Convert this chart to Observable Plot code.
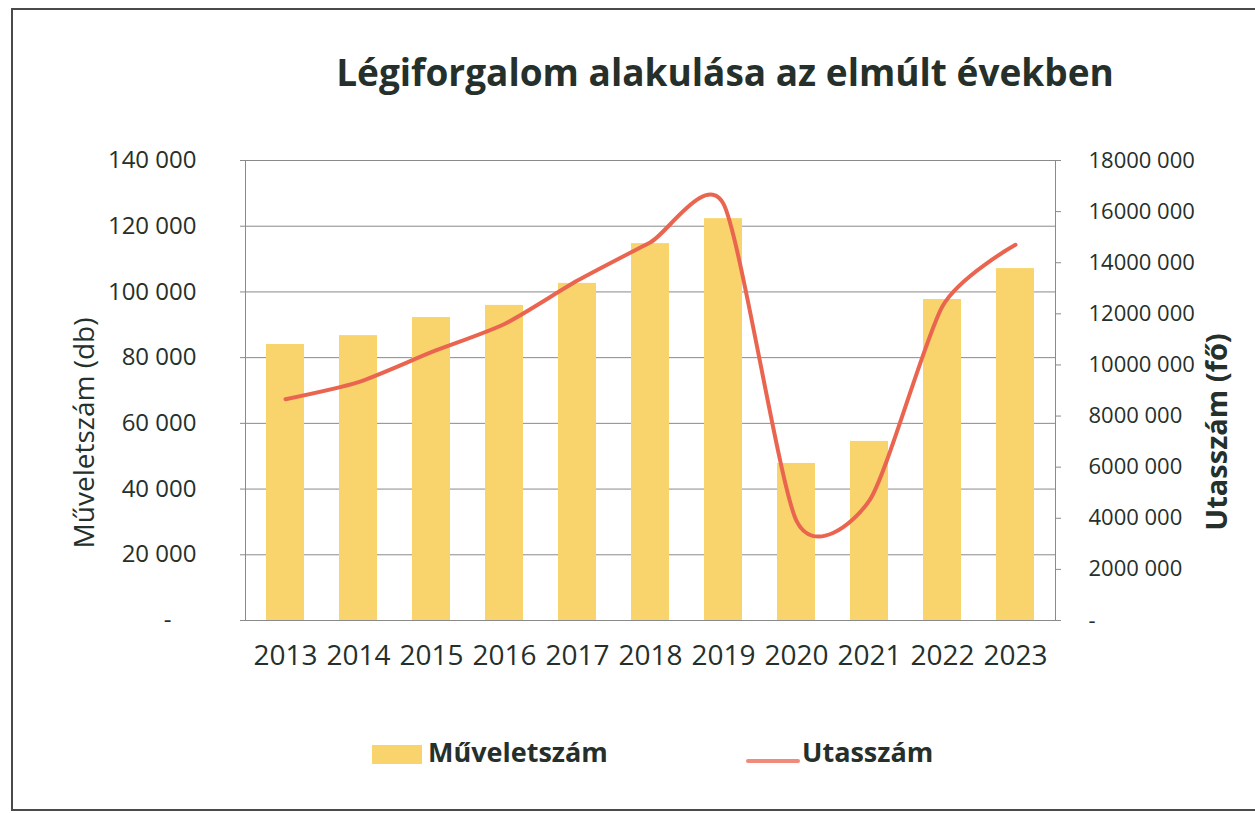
<!DOCTYPE html>
<html><head><meta charset="utf-8">
<script src="https://cdn.jsdelivr.net/npm/d3@7"></script>
<script src="https://cdn.jsdelivr.net/npm/@observablehq/plot@0.6"></script>
<style>
body{margin:0;background:#fff;width:1255px;height:813px;overflow:hidden;position:relative;font-family:"Open Sans",sans-serif;color:#26302b}
#border{position:absolute;left:11px;top:8px;width:1300px;height:803px;border:2px solid #4a4a4a;box-sizing:border-box}
#title{position:absolute;left:0;top:50px;width:1450px;text-align:center;font-weight:700;font-size:37px;line-height:44px}
#chart{position:absolute;left:0;top:0}
.ytitle{position:absolute;white-space:nowrap;transform:translate(-50%,-50%) rotate(-90deg);font-size:28px;line-height:32px}
#ltitle{left:83px;top:433px}
#rtitle{left:1216px;top:432px;font-weight:700;font-size:29px}
.leg{position:absolute;font-weight:700;font-size:27px;line-height:30px;top:737px}
.sw{position:absolute}
</style></head>
<body>
<div id="border"></div>
<div id="title">Légiforgalom alakulása az elmúlt években</div>
<div id="chart"></div>
<div class="ytitle" id="ltitle">Műveletszám (db)</div>
<div class="ytitle" id="rtitle">Utasszám (fő)</div>
<div class="sw" style="left:372px;top:745px;width:50px;height:19px;background:#F9D46C"></div>
<div class="leg" style="left:428px">Műveletszám</div>
<div class="sw" style="left:746px;top:759px;width:54px;height:4px;border-radius:2px;background:#F08A7A"></div>
<div class="leg" style="left:802px">Utasszám</div>
<script>
const years = ["2013","2014","2015","2016","2017","2018","2019","2020","2021","2022","2023"];
const operations = [84000, 86700, 92200, 95900, 102600, 114700, 122300, 47800, 54500, 97700, 107100];
const passengers = [8660000, 9330000, 10500000, 11600000, 13300000, 14800000, 16300000, 3900000, 4700000, 12300000, 14700000];
const leftTicks = [0, 20000, 40000, 60000, 80000, 100000, 120000, 140000];
const leftLabels = ["-\u00a0\u00a0\u00a0\u00a0", "20 000", "40 000", "60 000", "80 000", "100 000", "120 000", "140 000"];
const rightTicks = [0, 2000000, 4000000, 6000000, 8000000, 10000000, 12000000, 14000000, 16000000, 18000000];
const rightLabels = ["-", "2000 000", "4000 000", "6000 000", "8000 000", "10000 000", "12000 000", "14000 000", "16000 000", "18000 000"];

const k = 140000 / 18000000;
const data = years.map((y, i) => ({year: y, ops: operations[i], pax: passengers[i]}));
const leftMap = new Map(leftTicks.map((v, i) => [v, leftLabels[i]]));
const rightMap = new Map(rightTicks.map((v, i) => [v, rightLabels[i]]));

const chart = Plot.plot({
  width: 1255,
  height: 700,
  marginTop: 160,
  marginBottom: 80,
  marginLeft: 245,
  marginRight: 200,
  style: {fontFamily: "'Open Sans', sans-serif", color: "#26302b", background: "transparent"},
  x: {domain: years, paddingInner: 0.48, paddingOuter: 0.24, label: null},
  y: {domain: [0, 140000], label: null},
  marks: [
    Plot.gridY(leftTicks, {stroke: "#8a8a8a", strokeOpacity: 1, strokeWidth: 1}),
    Plot.barY(data, {x: "year", y: "ops", fill: "#F9D46C"}),
    Plot.line(data, {x: "year", y: d => d.pax * k, stroke: "#EA6550", strokeWidth: 4, curve: "cardinal", tension: 0.3}),
    Plot.frame({stroke: "#8a8a8a"}),
    Plot.axisY(leftTicks, {anchor: "left", tickSize: 5, tickPadding: 44, fontSize: 24, stroke: "#8a8a8a", tickFormat: d => leftMap.get(d), label: null}),
    Plot.axisY(rightTicks.map(v => v * k), {anchor: "right", tickSize: 5, tickPadding: 28, fontSize: 22, stroke: "#8a8a8a", tickFormat: d => rightMap.get(Math.round(d / k / 1000) * 1000), label: null}),
    Plot.axisX({anchor: "bottom", tickSize: 0, tickPadding: 25, fontSize: 28, label: null})
  ]
});
document.getElementById("chart").appendChild(chart);
</script>
</body></html>
